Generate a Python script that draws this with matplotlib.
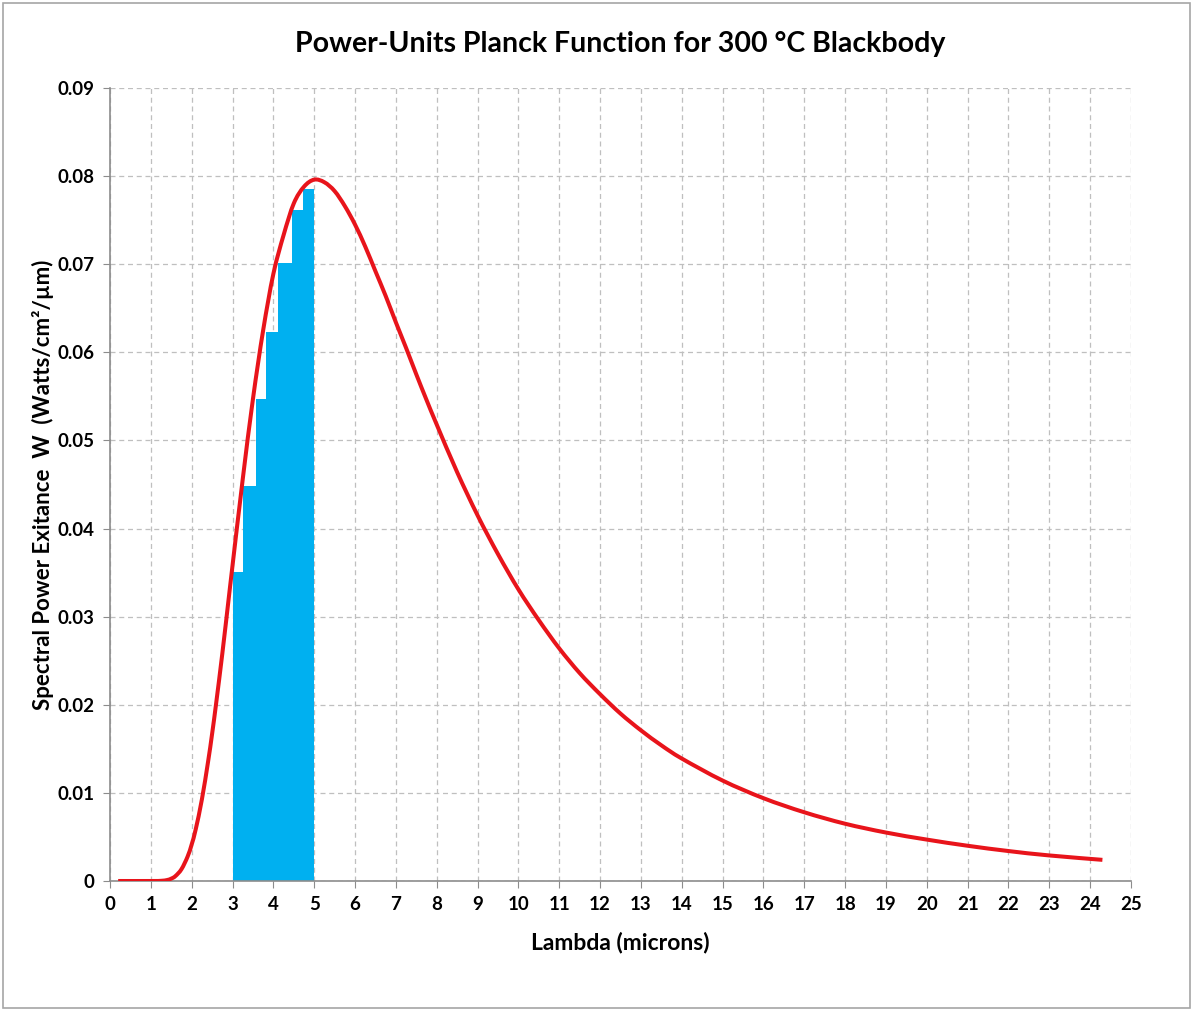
import matplotlib
matplotlib.use("Agg")
import matplotlib.pyplot as plt
from matplotlib.patches import Rectangle, PathPatch
from matplotlib.path import Path

plt.rcParams['font.family'] = ['Lato', 'DejaVu Sans']

# red curve: spectral exitance
lam = [0.2, 1.0, 1.25, 1.4, 1.5, 1.6, 1.75, 1.9, 2.0, 2.1, 2.25, 2.4, 2.5,
       2.6, 2.75, 2.9, 3.0, 3.25, 3.5, 3.75, 4.0, 4.25, 4.5, 4.75, 5.0, 5.25,
       5.5, 5.75, 6.0, 6.25, 6.5, 6.75, 7.0, 7.25, 7.5, 7.75, 8.0, 8.5, 9.0,
       9.5, 10.0, 10.5, 11.0, 11.5, 12.0, 12.5, 13.0, 13.5, 14.0, 15.0, 16.0,
       17.0, 18.0, 19.0, 20.0, 21.0, 22.0, 23.0, 24.3]
W = [0.0, 0.0, 0.00002, 0.00011, 0.00027, 0.00055, 0.00134, 0.00277,
     0.00415, 0.00589, 0.00926, 0.0135, 0.0167, 0.0202, 0.0258, 0.0318,
     0.0358, 0.0456, 0.0547, 0.0625, 0.0689, 0.0733, 0.0769, 0.0788, 0.0796,
     0.0793, 0.0783, 0.0766, 0.0745, 0.0720, 0.0692, 0.0664, 0.0634, 0.0605,
     0.0575, 0.0546, 0.0518, 0.0464, 0.0415, 0.0371, 0.0331, 0.0296, 0.0264,
     0.0236, 0.0212, 0.0190, 0.0171, 0.0154, 0.0139, 0.0114, 0.0094, 0.0078,
     0.0065, 0.0055, 0.0047, 0.0040, 0.0034, 0.0029, 0.0024]

# blue steps between 3 and 5 microns
band_edges = [3.0, 3.25, 3.57, 3.82, 4.11, 4.46, 4.73, 5.0]
band_W = [0.0351, 0.0448, 0.0547, 0.0623, 0.0701, 0.0762, 0.0785]


def smooth_path(xs, ys):
    # Excel style smoothed line: bezier through every point
    n = len(xs)
    verts = [(xs[0], ys[0])]
    codes = [Path.MOVETO]
    for i in range(n - 1):
        x0, y0 = xs[max(i - 1, 0)], ys[max(i - 1, 0)]
        x1, y1 = xs[i], ys[i]
        x2, y2 = xs[i + 1], ys[i + 1]
        x3, y3 = xs[min(i + 2, n - 1)], ys[min(i + 2, n - 1)]
        c1 = (x1 + (x2 - x0) / 6, y1 + (y2 - y0) / 6)
        c2 = (x2 - (x3 - x1) / 6, y2 - (y3 - y1) / 6)
        verts += [c1, c2, (x2, y2)]
        codes += [Path.CURVE4] * 3
    return Path(verts, codes)


fig = plt.figure(figsize=(11.94, 10.11), dpi=100)
ax = fig.add_axes([110/1194, 1-881/1011, 1021/1194, 793/1011])

ax.stairs(band_W, band_edges, fill=True, color='#00B0F0', zorder=2)
ax.add_patch(PathPatch(smooth_path(lam, W), fill=False, ec='#E8141B',
                       lw=2.9, zorder=3, capstyle='butt'))

ax.set_xlim(0, 25)
ax.set_ylim(0, 0.09)
ax.set_xticks(range(0, 26))
ax.set_yticks([i/100 for i in range(10)])
ax.set_yticklabels(['0'] + ['%.2f' % (i/100) for i in range(1, 10)])
ax.grid(True, color='#BFBFBF', ls=(0, (4, 3)), lw=0.9, zorder=1)
ax.set_axisbelow(True)
for s in ['top', 'right']:
    ax.spines[s].set_visible(False)
for s in ['left', 'bottom']:
    ax.spines[s].set_color('#8C8C8C')
    ax.spines[s].set_linewidth(1.2)
ax.tick_params(direction='out', length=5, color='#8C8C8C', labelsize=13.5, pad=6)
for t in ax.get_xticklabels() + ax.get_yticklabels():
    t.set_fontweight('bold')

ax.set_title('Power-Units Planck Function for 300 °C Blackbody', fontsize=20.5,
             fontweight='bold', pad=26)
ax.set_xlabel('Lambda (microns)', fontsize=16.5, fontweight='bold', labelpad=13)
ax.set_ylabel('Spectral Power Exitance  W  (Watts/cm²/µm)', fontsize=16,
              fontweight='bold', labelpad=3)

fig.patches.append(Rectangle((3/1194, 3/1011), 1187/1194, 1005/1011,
                             transform=fig.transFigure, fill=False,
                             ec='#A6A6A6', lw=1.2))

fig.savefig('out.png', dpi=100)
